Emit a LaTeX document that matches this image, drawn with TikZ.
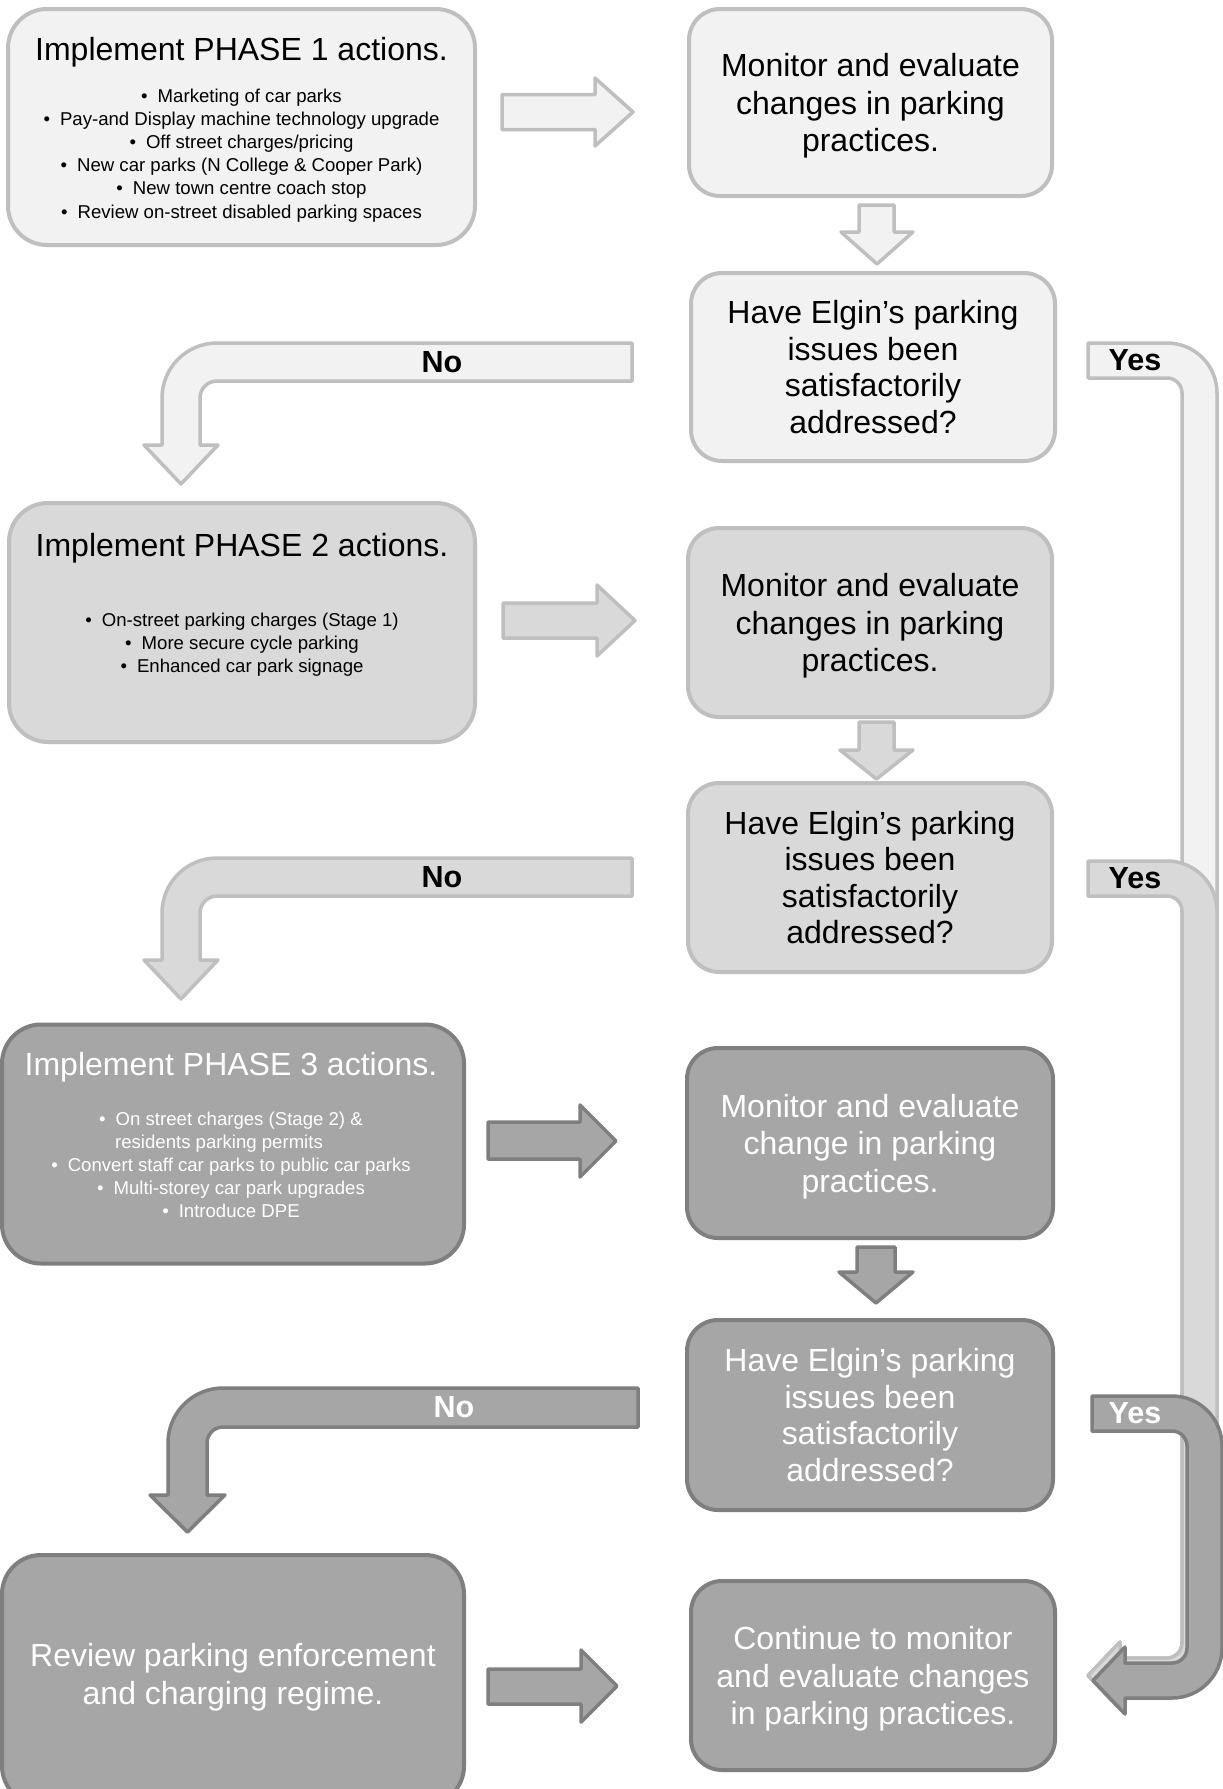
\documentclass[tikz,border=0pt]{standalone}
\usepackage{fontspec}
\setmainfont{Liberation Sans}
\definecolor{lf}{HTML}{F2F2F2}
\definecolor{ll}{HTML}{BFBFBF}
\definecolor{mf}{HTML}{D9D9D9}
\definecolor{df}{HTML}{A6A6A6}
\definecolor{dl}{HTML}{7F7F7F}
\newcommand{\bul}{•\hspace{10pt}}
\tikzset{
  boxL/.style={draw=ll, fill=lf, line width=4pt, rounded corners=#1},
  boxM/.style={draw=ll, fill=mf, line width=4pt, rounded corners=#1},
  boxD/.style={draw=dl, fill=df, line width=4pt, rounded corners=#1},
  arrL/.style={draw=ll, fill=lf, line width=3.5pt, line join=round},
  arrM/.style={draw=ll, fill=mf, line width=3.5pt, line join=round},
  arrD/.style={draw=dl, fill=df, line width=3.5pt, line join=round},
  big/.style={font=\fontsize{32}{37.5}\selectfont, align=center, inner sep=0pt},
  bigq/.style={font=\fontsize{32}{36.5}\selectfont, align=center, inner sep=0pt},
  small/.style={font=\fontsize{18.6}{23.2}\selectfont, align=center, inner sep=0pt},
  lab/.style={font=\fontsize{30.5}{34}\selectfont\bfseries, inner sep=0pt},
}
\begin{document}
\begin{tikzpicture}[x=1pt,y=-1pt]
\useasboundingbox (0,0) rectangle (1223,1789);
\clip (0,0) rectangle (1223,1789);
\fill[white] (0,0) rectangle (1223,1789);

% ---------- boxes ----------
\node[boxL=39pt, minimum width=467, minimum height=236] (p1) at (241.5,127) {};
\node[big] (p1t) at (241.5,52.4) {Implement PHASE 1 actions.};
\node[small] (p1b) at (241.5,155.3) {\bul Marketing of car parks\\
\bul Pay-and Display machine technology upgrade\\
\bul Off street charges/pricing\\
\bul New car parks (N College \& Cooper Park)\\
\bul New town centre coach stop\\
\bul Review on-street disabled parking spaces};

\node[boxL=31pt, minimum width=363, minimum height=187] (m1) at (870.5,102.5) {};
\node[big] (m1t) at ([yshift=-3.4pt]m1.center) {Monitor and evaluate\\changes in parking\\practices.};
\node[boxL=31pt, minimum width=364, minimum height=188, bigq] (q1) at (873,367)
  {Have Elgin’s parking\\issues been\\satisfactorily\\addressed?};

\node[boxM=39pt, minimum width=466, minimum height=239] (p2) at (242,622.5) {};
\node[big] (p2t) at (242,548.4) {Implement PHASE 2 actions.};
\node[small] (p2b) at (242,644.8) {\bul On-street parking charges (Stage 1)\\
\bul More secure cycle parking\\
\bul Enhanced car park signage};

\node[boxM=31pt, minimum width=364, minimum height=189] (m2) at (870,622.5) {};
\node[big] (m2t) at ([yshift=-3.4pt]m2.center) {Monitor and evaluate\\changes in parking\\practices.};
\node[boxM=31pt, minimum width=364, minimum height=189, bigq] (q2) at (870,877.5)
  {Have Elgin’s parking\\issues been\\satisfactorily\\addressed?};

\node[boxD=39pt, minimum width=462, minimum height=239] (p3) at (233,1144) {};
\node[big, text=white] (p3t) at (231,1067.4) {Implement PHASE 3 actions.};
\node[small, text=white] (p3b) at (231,1164.8) {\bul On street charges (Stage 2) \&\\
\hbox{residents parking permits\kern24pt}\\
\bul Convert staff car parks to public car parks\\
\bul Multi-storey car park upgrades\\
\bul Introduce DPE};

\node[boxD=31pt, minimum width=366, minimum height=190] (m3) at (870,1143) {};
\node[big, text=white] (m3t) at ([yshift=-3.4pt]m3.center) {Monitor and evaluate\\change in parking\\practices.};
\node[boxD=31pt, minimum width=366, minimum height=190, bigq, text=white] (q3) at (870,1415)
  {Have Elgin’s parking\\issues been\\satisfactorily\\addressed?};

\node[boxD=39pt, minimum width=462, minimum height=250] (r) at (233,1680) {};
\node[big, text=white] (rt) at (233,1677.4) {Review parking enforcement\\and charging regime.};

\node[boxD=31pt, minimum width=364, minimum height=189] (c) at (873,1675.5) {};
\node[big, text=white] (ct) at ([yshift=-3.4pt]c.center) {Continue to monitor\\and evaluate changes\\in parking practices.};

% ---------- straight block arrows ----------
\draw[arrL] (502,94.5) -- (595,94.5) -- (595,78) -- (633,112) -- (595,146) -- (595,129.5) -- (502,129.5) -- cycle;
\draw[arrM] (503,603) -- (597,603) -- (597,585) -- (635,620.5) -- (597,656) -- (597,638) -- (503,638) -- cycle;
\draw[arrD] (488,1122) -- (580,1122) -- (580,1105) -- (616,1141) -- (580,1177) -- (580,1159) -- (488,1159) -- cycle;
\draw[arrD] (488,1669) -- (581,1669) -- (581,1650) -- (617,1686) -- (581,1722) -- (581,1704) -- (488,1704) -- cycle;

\draw[arrL] (859,205) -- (894,205) -- (894,232) -- (913,232) -- (877,264) -- (841,232) -- (859,232) -- cycle;
\draw[arrM] (859,722) -- (894,722) -- (894,750) -- (913,750) -- (876.5,779) -- (840,750) -- (859,750) -- cycle;
\draw[arrD] (857,1247) -- (895,1247) -- (895,1272) -- (913,1272) -- (876,1303) -- (839,1272) -- (857,1272) -- cycle;

% ---------- "No" bent arrows ----------
\draw[arrL] (632,343) -- (217,343) arc[start angle=90,end angle=180,radius=55pt] -- (162,445) -- (144,445) -- (181,484) -- (218,445) -- (200,445) -- (200,398) arc[start angle=180,end angle=90,radius=17pt] -- (632,381) -- cycle;
\node[lab] (no1) at (442,362) {No};

\draw[arrM] (632,858) -- (217,858) arc[start angle=90,end angle=180,radius=55pt] -- (162,960) -- (144,960) -- (181,999) -- (218,960) -- (200,960) -- (200,913) arc[start angle=180,end angle=90,radius=17pt] -- (632,896) -- cycle;
\node[lab] (no2) at (442,877) {No};

\draw[arrD] (638,1388) -- (223,1388) arc[start angle=90,end angle=180,radius=55pt] -- (168,1495) -- (150,1495) -- (187.5,1532) -- (225,1495) -- (207,1495) -- (207,1443) arc[start angle=180,end angle=90,radius=16pt] -- (638,1427) -- cycle;
\node[lab, text=white] (no3) at (454,1407.5) {No};

% ---------- "Yes" bent arrows ----------
\draw[arrL] (1088,343) -- (1167,343) arc[start angle=90,end angle=0,radius=50pt] -- (1217,1643) arc[start angle=0,end angle=-90,radius=50pt] -- (1120,1693) -- (1120,1709) -- (1088,1675.5) -- (1120,1642) -- (1120,1658) -- (1167,1658) arc[start angle=-90,end angle=0,radius=15pt] -- (1182,393) arc[start angle=0,end angle=90,radius=15pt] -- (1088,378) -- cycle;
\node[lab] (yes1) at (1135,360.5) {Yes};

\draw[arrM] (1088,861) -- (1167,861) arc[start angle=90,end angle=0,radius=50pt] -- (1217,1643) arc[start angle=0,end angle=-90,radius=50pt] -- (1120,1693) -- (1120,1709) -- (1088,1675.5) -- (1120,1642) -- (1120,1658) -- (1167,1658) arc[start angle=-90,end angle=0,radius=15pt] -- (1182,911) arc[start angle=0,end angle=90,radius=15pt] -- (1088,896) -- cycle;
\node[lab] (yes2) at (1135,878.5) {Yes};

\draw[arrD] (1092,1396) -- (1172,1396) arc[start angle=90,end angle=0,radius=50pt] -- (1222,1648) arc[start angle=0,end angle=-90,radius=50pt] -- (1125,1698) -- (1125,1714) -- (1093,1680.5) -- (1125,1647) -- (1125,1663) -- (1172,1663) arc[start angle=-90,end angle=0,radius=15pt] -- (1187,1446) arc[start angle=0,end angle=90,radius=15pt] -- (1092,1431) -- cycle;
\node[lab, text=white] (yes3) at (1135,1413.5) {Yes};
\end{tikzpicture}
\end{document}
